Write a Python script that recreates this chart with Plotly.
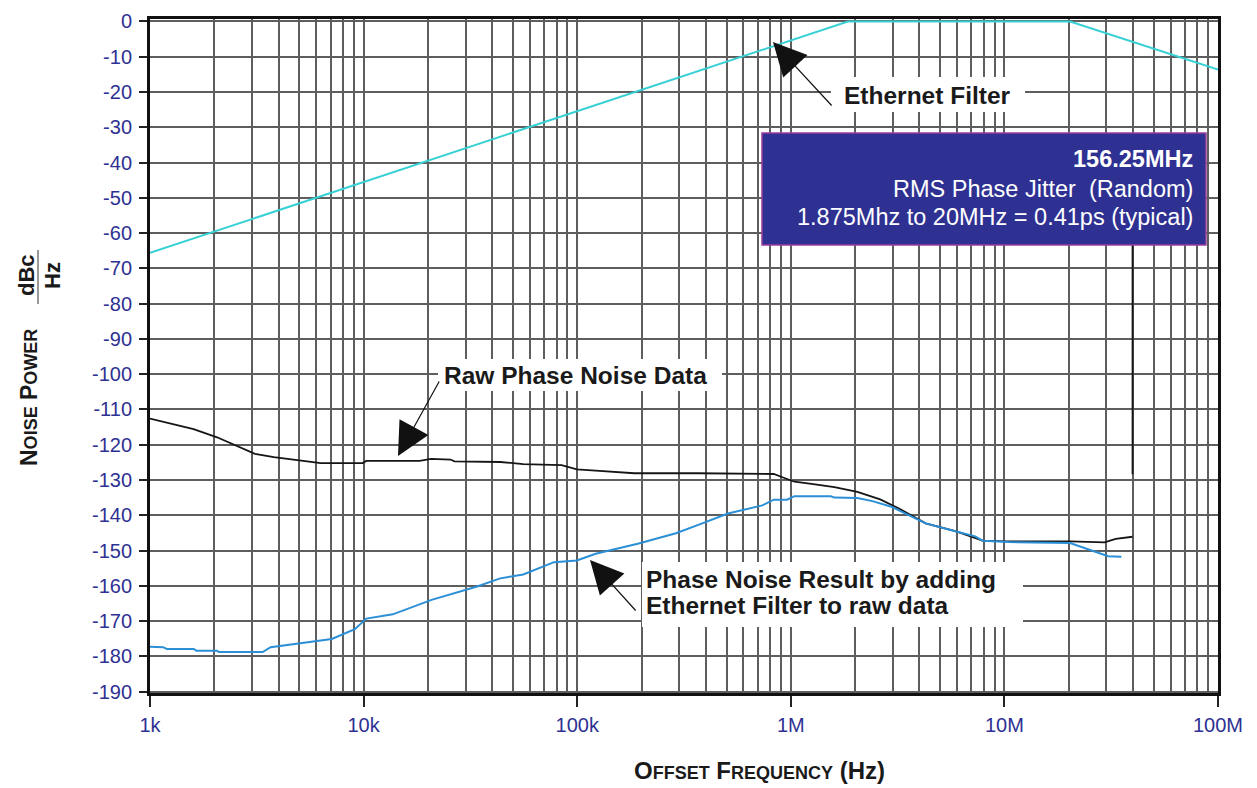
import plotly.graph_objects as go

# ---------------- data ----------------
filter_freq = [1e3, 1.85e6, 20.3e6, 100e6]
filter_db = [-65.6, 0.0, 0.0, -13.6]

raw_freq = [1.0e3, 1.36e3, 1.6e3, 2.06e3, 2.5e3, 3.1e3, 3.8e3, 5.1e3, 6.3e3, 9.9e3,
            10.3e3, 18.3e3, 20.7e3, 25.5e3, 26.6e3, 43.6e3, 55.9e3, 84.5e3, 99.6e3,
            127e3, 185e3, 366e3, 832e3, 920e3, 1.04e6, 1.25e6, 1.6e6, 2.05e6, 2.62e6,
            3.21e6, 4.28e6, 5.95e6, 7.9e6, 10.1e6, 20.3e6, 29.4e6, 33.2e6, 39.8e6,
            None, 39.8e6, 39.8e6]
raw_db = [-112.6, -114.7, -115.6, -117.9, -120.2, -122.6, -123.5, -124.4, -125.2, -125.2,
          -124.6, -124.6, -124.0, -124.2, -124.7, -124.9, -125.5, -125.8, -127.0,
          -127.4, -128.1, -128.1, -128.3, -129.3, -130.5, -131.1, -132.0, -133.4, -135.5,
          -138.1, -142.3, -144.6, -147.2, -147.4, -147.4, -147.7, -146.7, -146.1,
          None, -128.4, -60.0]

res_freq = [1.0e3, 1.15e3, 1.2e3, 1.6e3, 1.65e3, 2.06e3, 2.1e3, 3.37e3, 3.67e3, 4.7e3,
            5.3e3, 7.1e3, 9.1e3, 10.3e3, 13.7e3, 20.8e3, 34e3, 43.6e3, 55.9e3, 77.9e3,
            99.6e3, 122e3, 192e3, 290e3, 385e3, 508e3, 736e3, 832e3, 960e3, 1.04e6,
            1.54e6, 1.6e6, 2.05e6, 2.41e6, 2.96e6, 4.28e6, 5.95e6, 7.3e6, 7.9e6,
            10.5e6, 20.3e6, 25e6, 30.6e6, 35.3e6]
res_db = [-177.3, -177.4, -177.9, -177.9, -178.4, -178.4, -178.8, -178.8, -177.4, -176.5,
          -176.0, -175.1, -172.3, -169.3, -168.1, -164.0, -160.2, -157.9, -156.8, -153.3,
          -152.8, -150.9, -148.1, -145.1, -142.3, -139.5, -137.2, -135.6, -135.6, -134.6,
          -134.6, -135.0, -135.1, -136.0, -137.6, -142.3, -144.6, -146.0, -147.2,
          -147.6, -147.9, -149.7, -151.6, -151.8]

x_tick_vals = [1e3, 1e4, 1e5, 1e6, 1e7, 1e8]
x_tick_text = ["1k", "10k", "100k", "1M", "10M", "100M"]
y_tick_vals = list(range(0, -200, -10))
y_tick_text = [str(v) if v == 0 else "-" + str(-v) for v in y_tick_vals]

TICK_COLOR = "#2E3192"
GRID = "#5E5E5E"
TXT = "#1a1a1a"
FONT = "Liberation Sans, Arial, sans-serif"

fig = go.Figure()
fig.add_trace(go.Scatter(x=filter_freq, y=filter_db, mode="lines",
                         line=dict(color="#37D0D5", width=2), hoverinfo="skip"))
fig.add_trace(go.Scatter(x=raw_freq, y=raw_db, mode="lines", connectgaps=False,
                         line=dict(color="#151515", width=1.8), hoverinfo="skip"))
fig.add_trace(go.Scatter(x=res_freq, y=res_db, mode="lines",
                         line=dict(color="#2B8FD6", width=2), hoverinfo="skip"))

W, H = 1257, 788
OFF = 8  # page body margin
# desired plot-area bounds in the screenshot
SX0, SX1, SY0, SY1 = 150, 1218, 19, 693
L, T = SX0 - OFF, SY0 - OFF
R, B = W - (SX1 - OFF), H - (SY1 - OFF)


def px(xp):
    return (xp - SX0) / (SX1 - SX0)


def py(yp):
    return (SY1 - yp) / (SY1 - SY0)


fig.update_layout(
    width=W, height=H,
    margin=dict(l=L, r=R, t=T, b=B, autoexpand=False),
    paper_bgcolor="white", plot_bgcolor="white",
    showlegend=False,
    font=dict(family=FONT),
    xaxis=dict(type="log", range=[3, 8], tickmode="array", automargin=False,
               tickvals=x_tick_vals, ticktext=x_tick_text,
               tickfont=dict(size=20, color=TICK_COLOR), ticklabeloverflow="allow",
               ticks="outside", ticklen=11, tickwidth=1.5, tickcolor="#222",
               showgrid=True, gridcolor=GRID, gridwidth=1.5,
               minor=dict(dtick="D1", showgrid=True, gridcolor=GRID, gridwidth=1.5, ticks=""),
               showline=True, linecolor="#111", linewidth=3, mirror=True,
               zeroline=False, ticklabelstandoff=1),
    yaxis=dict(range=[-190.4, 0.7], tickmode="array", automargin=False,
               tickvals=y_tick_vals, ticktext=y_tick_text,
               tickfont=dict(size=20, color=TICK_COLOR), ticklabeloverflow="allow",
               ticks="outside", ticklen=8, tickwidth=1.5, tickcolor="#222",
               showgrid=True, gridcolor=GRID, gridwidth=1.5,
               showline=True, linecolor="#111", linewidth=3, mirror=True,
               zeroline=False, ticklabelstandoff=3),
)

# white backgrounds behind the callout labels
for x0, x1, y0, y1 in [(831, 1025, 77, 112), (438, 722, 359, 391), (642, 1023, 562, 627)]:
    fig.add_shape(type="rect", xref="paper", yref="paper",
                  x0=px(x0), x1=px(x1), y0=py(y1), y1=py(y0),
                  fillcolor="white", line=dict(width=0), layer="above")

# info box
fig.add_shape(type="rect", xref="paper", yref="paper",
              x0=px(762), x1=px(1206), y0=py(245), y1=py(133),
              fillcolor="#2E3192", line=dict(color="#9A3C9E", width=1.5), layer="above")

box_lines = ["<b>156.25MHz</b>", "RMS Phase Jitter\u00a0 (Random)",
             "1.875Mhz to 20MHz = 0.41ps (typical)"]
box_y = [159, 189, 217]
for t, yy in zip(box_lines, box_y):
    fig.add_annotation(xref="paper", yref="paper", x=px(1195), y=py(yy),
                       xanchor="right", yanchor="middle", text=t, showarrow=False,
                       font=dict(size=23.5, color="white", family=FONT))

# callout labels
labels = [
    ("<b>Ethernet Filter</b>", 842, 95),
    ("<b>Raw Phase Noise Data</b>", 442, 375),
    ("<b>Phase Noise Result by adding</b>", 644, 579),
    ("<b>Ethernet Filter to raw data</b>", 644, 605),
]
for t, xx, yy in labels:
    fig.add_annotation(xref="paper", yref="paper", x=px(xx), y=py(yy),
                       xanchor="left", yanchor="middle", text=t, showarrow=False,
                       font=dict(size=24.5, color=TXT, family=FONT))

# arrows
arrows = [((773, 42), 60, 65), ((398, 456), 42, -76), ((590, 560), 47, 52)]
for (tx, ty), ax, ay in arrows:
    fig.add_annotation(xref="paper", yref="paper", x=px(tx), y=py(ty),
                       ax=ax, ay=ay, text="", showarrow=True,
                       arrowhead=2, arrowsize=5.5, arrowwidth=1.2, arrowcolor="#111")

# axis titles
fig.add_annotation(xref="paper", yref="paper", x=px(759), y=py(770),
                   xanchor="center", yanchor="middle",
                   text="<b>O<span style='font-size:18px'>FFSET</span> F<span style='font-size:18px'>REQUENCY</span> (Hz)</b>",
                   showarrow=False, font=dict(size=24, color=TXT, family=FONT))
fig.add_annotation(xref="paper", yref="paper", x=px(29), y=py(398), textangle=-90,
                   xanchor="center", yanchor="middle",
                   text="<b>N<span style='font-size:18px'>OISE</span> P<span style='font-size:18px'>OWER</span></b>",
                   showarrow=False, font=dict(size=23, color=TXT, family=FONT))
fig.add_annotation(xref="paper", yref="paper", x=px(26), y=py(275), textangle=-90,
                   xanchor="center", yanchor="middle",
                   text="<b>dBc</b>", showarrow=False,
                   font=dict(size=22, color=TXT, family=FONT))
fig.add_annotation(xref="paper", yref="paper", x=px(52), y=py(276), textangle=-90,
                   xanchor="center", yanchor="middle",
                   text="<b>Hz</b>", showarrow=False,
                   font=dict(size=22, color=TXT, family=FONT))
fig.add_shape(type="line", xref="paper", yref="paper",
              x0=px(38), x1=px(38), y0=py(250), y1=py(304),
              line=dict(color="#555", width=1.2))

fig.write_html("out.html")
